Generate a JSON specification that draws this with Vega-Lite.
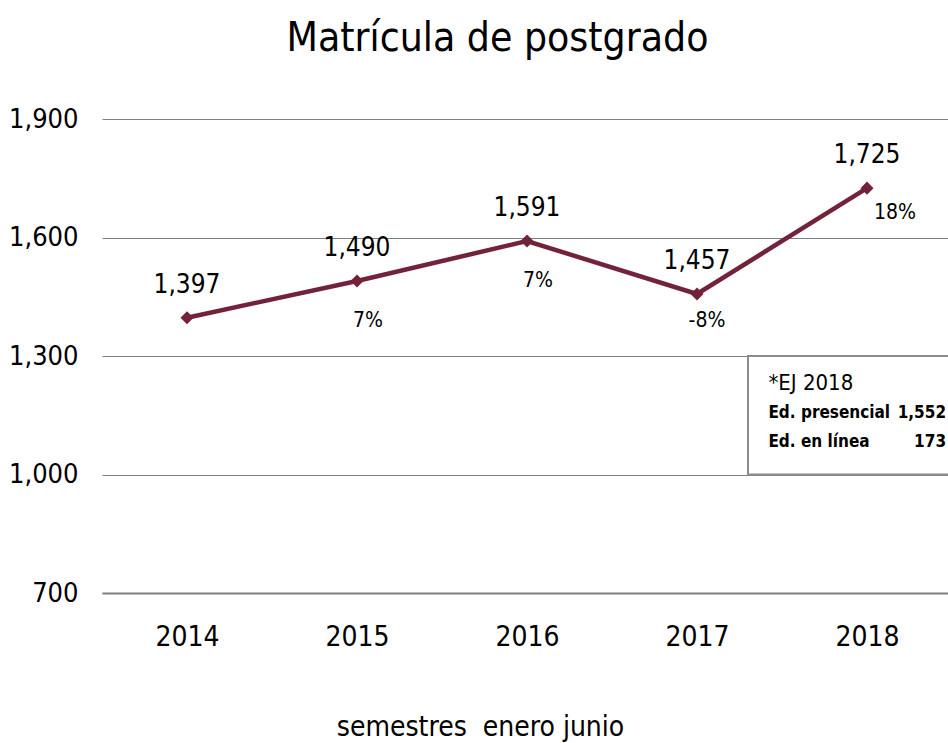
{
  "$schema": "https://vega.github.io/schema/vega-lite/v6.json",
  "autosize": "none",
  "width": 850,
  "height": 474,
  "padding": {"left": 102, "top": 119, "right": 0, "bottom": 150},
  "background": "white",
  "config": {
    "font": "DejaVu Sans Condensed",
    "view": {"stroke": null}
  },
  "title": {
    "text": "Matrícula de postgrado",
    "fontSize": 40.5,
    "fontWeight": "normal",
    "color": "#000000",
    "anchor": "start",
    "dx": 278,
    "offset": 46,
    "font": "DejaVu Sans Condensed"
  },
  "datasets": {
    "main": [
      {"year": 2014, "value": 1397, "pct": ""},
      {"year": 2015, "value": 1490, "pct": "7%"},
      {"year": 2016, "value": 1591, "pct": "7%"},
      {"year": 2017, "value": 1457, "pct": "-8%"},
      {"year": 2018, "value": 1725, "pct": "18%"}
    ],
    "box": [{"x1": 2017.3, "x2": 2018.6, "y1": 1000, "y2": 1300}],
    "boxtext": [
      {"x": 2017.42, "y": 1232, "label": "*EJ 2018", "bold": false, "align": "left"},
      {"x": 2017.42, "y": 1156, "label": "Ed. presencial", "bold": true, "align": "left"},
      {"x": 2018.465, "y": 1156, "label": "1,552", "bold": true, "align": "right"},
      {"x": 2017.42, "y": 1082, "label": "Ed. en línea", "bold": true, "align": "left"},
      {"x": 2018.465, "y": 1082, "label": "173", "bold": true, "align": "right"}
    ]
  },
  "encoding": {
    "x": {
      "field": "year", "type": "quantitative",
      "scale": {"domain": [2013.5, 2018.5], "nice": false, "zero": false},
      "axis": {
        "values": [2014, 2015, 2016, 2017, 2018], "format": "d",
        "grid": false, "ticks": false, "domain": true, "domainColor": "#7f7f7f", "domainWidth": 2,
        "labelFontSize": 28, "labelColor": "#000", "labelPadding": 30,
        "title": "semestres\u00a0 enero junio", "titleFontSize": 28, "titleFontWeight": "normal",
        "titleColor": "#000", "titlePadding": 62, "titleX": 378
      }
    },
    "y": {
      "field": "value", "type": "quantitative",
      "scale": {"domain": [700, 1900], "nice": false, "zero": false},
      "axis": {
        "values": [700, 1000, 1300, 1600, 1900], "format": ",.0f",
        "grid": true, "gridColor": "#7f7f7f", "gridWidth": 1.2,
        "ticks": false, "domain": false,
        "labelFontSize": 27, "labelColor": "#000", "labelPadding": 24,
        "title": null
      }
    }
  },
  "layer": [
    {
      "data": {"name": "box"},
      "mark": {"type": "rect", "fill": "white", "stroke": "#8c8c8c", "strokeWidth": 2, "clip": false},
      "encoding": {
        "x": {"field": "x1", "type": "quantitative"},
        "x2": {"field": "x2"},
        "y": {"field": "y1", "type": "quantitative"},
        "y2": {"field": "y2"}
      }
    },
    {
      "data": {"name": "boxtext"},
      "transform": [{"filter": "!datum.bold"}],
      "mark": {"type": "text", "align": "left", "baseline": "middle", "fontSize": 22, "color": "#000"},
      "encoding": {
        "x": {"field": "x", "type": "quantitative"},
        "y": {"field": "y", "type": "quantitative"},
        "text": {"field": "label"}
      }
    },
    {
      "data": {"name": "boxtext"},
      "transform": [{"filter": "datum.bold && datum.align == 'left'"}],
      "mark": {"type": "text", "align": "left", "baseline": "middle", "fontSize": 17, "fontWeight": "bold", "color": "#000"},
      "encoding": {
        "x": {"field": "x", "type": "quantitative"},
        "y": {"field": "y", "type": "quantitative"},
        "text": {"field": "label"}
      }
    },
    {
      "data": {"name": "boxtext"},
      "transform": [{"filter": "datum.bold && datum.align == 'right'"}],
      "mark": {"type": "text", "align": "right", "baseline": "middle", "fontSize": 17, "fontWeight": "bold", "color": "#000"},
      "encoding": {
        "x": {"field": "x", "type": "quantitative"},
        "y": {"field": "y", "type": "quantitative"},
        "text": {"field": "label"}
      }
    },
    {
      "data": {"name": "main"},
      "mark": {"type": "line", "color": "#722339", "strokeWidth": 4.5},
      "encoding": {}
    },
    {
      "data": {"name": "main"},
      "mark": {"type": "point", "shape": "diamond", "filled": true, "color": "#722339", "size": 170, "opacity": 1},
      "encoding": {}
    },
    {
      "data": {"name": "main"},
      "mark": {"type": "text", "baseline": "middle", "fontSize": 26, "dy": -33, "color": "#000"},
      "encoding": {"text": {"field": "value", "format": ",.0f"}}
    },
    {
      "data": {"name": "main"},
      "transform": [{"filter": "datum.year == 2015 || datum.year == 2016"}],
      "mark": {"type": "text", "baseline": "middle", "fontSize": 21, "dy": 40, "dx": 11, "color": "#000"},
      "encoding": {"text": {"field": "pct"}}
    },
    {
      "data": {"name": "main"},
      "transform": [{"filter": "datum.year == 2017"}],
      "mark": {"type": "text", "baseline": "middle", "fontSize": 21, "dy": 27, "dx": 10, "color": "#000"},
      "encoding": {"text": {"field": "pct"}}
    },
    {
      "data": {"name": "main"},
      "transform": [{"filter": "datum.year == 2018"}],
      "mark": {"type": "text", "baseline": "middle", "fontSize": 21, "dy": 25, "dx": 28, "color": "#000"},
      "encoding": {"text": {"field": "pct"}}
    }
  ]
}
